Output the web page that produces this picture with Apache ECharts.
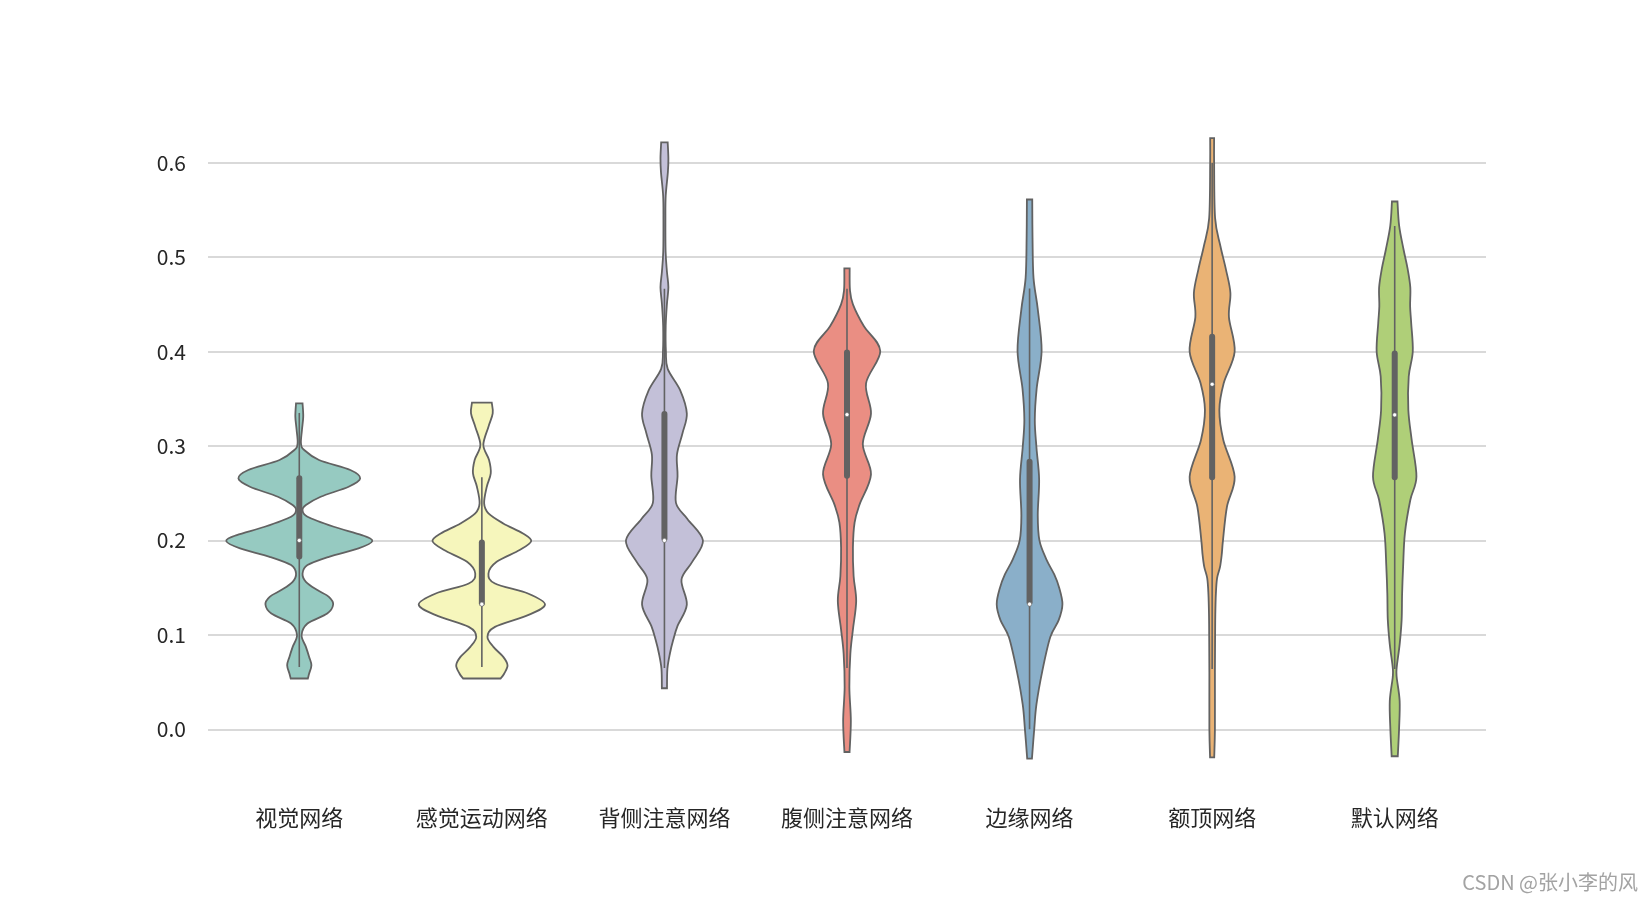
<!DOCTYPE html>
<html>
<head>
<meta charset="utf-8">
<script src="https://cdn.jsdelivr.net/npm/echarts@6/dist/echarts.min.js"></script>
<style>html,body{margin:0;padding:0;background:#fff}#c{width:1650px;height:900px}</style>
</head>
<body>
<div id="c"></div>
<script>
// ---- data ----
const categories = ['视觉网络', '感觉运动网络', '背侧注意网络', '腹侧注意网络', '边缘网络', '额顶网络', '默认网络'];
const yTicks = [0, 0.1, 0.2, 0.3, 0.4, 0.5, 0.6];

// density profiles: [value, relative density] from bottom to top
const densVisual = [[0.0538,8.7],[0.0591,10],[0.0679,12.3],[0.0767,10],[0.0873,6.7],[0.0997,2.3],[0.1120,8.3],[0.1226,28.3],[0.1322,34.3],[0.1403,30],[0.1474,18.3],[0.1562,6.7],[0.1650,3.3],[0.1739,8.3],[0.1827,30],[0.1916,60],[0.1993,74],[0.2057,63.3],[0.2145,35],[0.2251,8.3],[0.2322,3.3],[0.2375,6.7],[0.2463,21.7],[0.2569,50],[0.2657,61.7],[0.2746,51.7],[0.2852,20],[0.2958,5],[0.3028,1.7],[0.3170,2.7],[0.3311,4],[0.3452,3.3]];
const densSensorimotor = [[0.0538,19],[0.0591,22.7],[0.0679,26],[0.0767,21.7],[0.0873,11.7],[0.0979,5.7],[0.1085,13.3],[0.1209,46.7],[0.1322,64],[0.1438,46.7],[0.1544,13.3],[0.1650,6.7],[0.1774,15],[0.1898,38.3],[0.1993,50],[0.2074,41.7],[0.2180,21.7],[0.2286,6.7],[0.2392,2.3],[0.2569,5],[0.2710,9],[0.2852,7.3],[0.3010,1.5],[0.3205,6.7],[0.3346,11],[0.3459,10]];
const densDorsal = [[0.0435,2.6],[0.064,3],[0.080,5.5],[0.095,9],[0.1095,13.3],[0.1321,22.7],[0.1586,17.3],[0.1775,28.3],[0.2,39],[0.2228,23.3],[0.2398,11.7],[0.2682,13.3],[0.2909,12.7],[0.3135,18.3],[0.3343,22.7],[0.3589,16],[0.3816,3.3],[0.40,1.5],[0.427,1.3],[0.45,2.5],[0.468,4],[0.485,2.5],[0.506,1.2],[0.54,1],[0.565,1.3],[0.59,3.5],[0.6045,4],[0.6215,3.3]];
const densVentral = [[-0.024,2.6],[0.0088,3.9],[0.0445,2.4],[0.08,3.4],[0.1056,6],[0.1359,9.3],[0.1624,6.7],[0.1926,6],[0.219,7.7],[0.2379,12.7],[0.27,24.3],[0.302,16],[0.3343,24.3],[0.3664,19.3],[0.4005,33.7],[0.427,17],[0.45,6],[0.465,3],[0.4881,2.7]];
const densLimbic = [[-0.031,2.4],[0.0,4.7],[0.0266,7],[0.0622,13],[0.0977,21],[0.1156,29.5],[0.1325,33.3],[0.15,30],[0.164,25],[0.18,17],[0.2,10],[0.2268,8.3],[0.2646,9.7],[0.2981,7],[0.3275,5.3],[0.361,7.2],[0.4008,12.2],[0.4449,8.3],[0.478,4],[0.5203,3],[0.561,2.7]];
const densFrontoparietal = [[-0.0296,2.1],[0.0,2.8],[0.06,2.8],[0.1,3],[0.122,3.2],[0.1439,3.8],[0.16,5],[0.172,8],[0.1849,9.7],[0.2004,11],[0.2357,15],[0.2675,22.8],[0.3064,11.3],[0.3382,7.3],[0.3665,11.7],[0.4,22.8],[0.4365,17],[0.462,18.5],[0.4868,14],[0.512,8.3],[0.5413,3],[0.6,2],[0.626,2]];
const densDefault = [[-0.0285,3.1],[0.0,4.4],[0.03,5],[0.0551,2],[0.0654,2],[0.09,5],[0.1156,7],[0.1439,7.5],[0.172,8.5],[0.2075,10.3],[0.2428,15.8],[0.2675,22],[0.3064,17.2],[0.3382,13.8],[0.3736,14.2],[0.4,18.3],[0.4301,16.7],[0.448,15.6],[0.468,15.8],[0.488,13],[0.5078,9],[0.533,4.5],[0.5589,2.8]];

// box stats: [whisker low, q1, median, q3, whisker high]
const boxVisual = [0.066, 0.181, 0.200, 0.268, 0.335];
const boxSensorimotor = [0.066, 0.1315, 0.1325, 0.200, 0.267];
const boxDorsal = [0.065, 0.200, 0.200, 0.336, 0.4666];
const boxVentral = [0.065, 0.2663, 0.3332, 0.4012, 0.4666];
const boxLimbic = [0.0, 0.1325, 0.1325, 0.2855, 0.4667];
const boxFrontoparietal = [0.064, 0.2647, 0.3654, 0.4177, 0.600];
const boxDefault = [0.064, 0.2647, 0.3329, 0.400, 0.533];

const densities = [densVisual, densSensorimotor, densDorsal, densVentral, densLimbic, densFrontoparietal, densDefault];
const boxes = [boxVisual, boxSensorimotor, boxDorsal, boxVentral, boxLimbic, boxFrontoparietal, boxDefault];
const colors = ['#96cac1', '#f6f6bc', '#c3c0d8', '#ea8e83', '#8aafc9', '#eab375', '#afcf78'];
const gray = '#626262';

let maxD = 0;
densities.forEach(d => d.forEach(p => { if (p[1] > maxD) maxD = p[1]; }));

function spline(p) {
  let s = '';
  for (let k = 0; k < p.length - 1; k++) {
    const p0 = p[k - 1] || p[k], p1 = p[k], p2 = p[k + 1], p3 = p[k + 2] || p[k + 1];
    const c1 = [p1[0] + (p2[0] - p0[0]) / 6, p1[1] + (p2[1] - p0[1]) / 6];
    const c2 = [p2[0] - (p3[0] - p1[0]) / 6, p2[1] - (p3[1] - p1[1]) / 6];
    s += ' C' + c1[0].toFixed(2) + ',' + c1[1].toFixed(2) + ' ' + c2[0].toFixed(2) + ',' + c2[1].toFixed(2) + ' ' + p2[0].toFixed(2) + ',' + p2[1].toFixed(2);
  }
  return s;
}

const chart = echarts.init(document.getElementById('c'));
chart.setOption({
  backgroundColor: '#ffffff',
  animation: false,
  grid: { left: 208, right: 164, top: 106, bottom: 114 },
  xAxis: {
    type: 'category',
    data: categories,
    boundaryGap: true,
    axisLine: { show: false },
    axisTick: { show: false },
    splitLine: { show: false },
    axisLabel: { color: '#262626', fontSize: 22, margin: 21, fontFamily: '"Noto Sans CJK SC", sans-serif' }
  },
  yAxis: {
    type: 'value',
    min: -0.06,
    max: 0.66,
    axisLine: { show: false },
    axisTick: { show: false, customValues: yTicks },
    axisLabel: {
      customValues: yTicks,
      color: '#262626', fontSize: 21, margin: 22,
      fontFamily: '"Noto Sans CJK SC", sans-serif',
      formatter: v => v.toFixed(1)
    },
    splitLine: { show: true, lineStyle: { color: '#cccccc', width: 1.6 } }
  },
  graphic: [{
    type: 'text', right: 12, bottom: 8,
    style: { text: 'CSDN @张小李的风', fill: '#a3a3a3', font: '20px "Noto Sans CJK SC", sans-serif' }
  }],
  series: [{
    type: 'custom',
    data: categories.map((c, i) => [i]),
    encode: { x: 0 },
    renderItem: function (params, api) {
      const i = params.dataIndex;
      const dens = densities[i];
      const b = boxes[i];
      const band = api.size([1, 0])[0];
      const cx = api.coord([i, 0])[0];
      const scale = 0.4 * band / maxD;
      const left = dens.map(p => [cx - p[1] * scale, api.coord([i, p[0]])[1]]);
      const right = dens.map(p => [cx + p[1] * scale, api.coord([i, p[0]])[1]]).reverse();
      let d = 'M' + left[0][0].toFixed(2) + ',' + left[0][1].toFixed(2) + spline(left);
      d += ' L' + right[0][0].toFixed(2) + ',' + right[0][1].toFixed(2) + spline(right) + ' Z';
      const yLo = api.coord([i, b[0]])[1], yQ1 = api.coord([i, b[1]])[1], yMed = api.coord([i, b[2]])[1], yQ3 = api.coord([i, b[3]])[1], yHi = api.coord([i, b[4]])[1];
      return {
        type: 'group',
        children: [
          { type: 'path', shape: { pathData: d }, style: { fill: colors[i], stroke: gray, lineWidth: 1.8 } },
          { type: 'line', shape: { x1: cx, y1: yLo, x2: cx, y2: yHi }, style: { stroke: gray, lineWidth: 1.6 } },
          { type: 'rect', shape: { x: cx - 3, y: yQ3 - 1, width: 6, height: yQ1 - yQ3 + 2, r: 3 }, style: { fill: gray } },
          { type: 'circle', shape: { cx: cx, cy: yMed, r: 2.1 }, style: { fill: '#ffffff', stroke: gray, lineWidth: 0.6 } }
        ]
      };
    }
  }]
});
</script>
</body>
</html>
